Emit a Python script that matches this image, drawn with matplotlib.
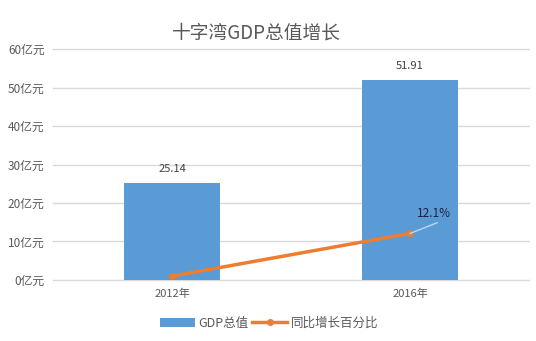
import matplotlib.pyplot as plt
import numpy as np

plt.rcParams['font.family'] = ['Noto Sans CJK SC', 'DejaVu Sans']

years = ['2012年', '2016年']
gdp = [25.14, 51.91]
growth = [1.0, 12.1]
yticks = [0, 10, 20, 30, 40, 50, 60]

fig = plt.figure(figsize=(5.36, 3.41), dpi=100)
ax = fig.add_axes([0.099, 0.179, 0.888, 0.677])

x = np.arange(len(years))
bars = ax.bar(x, gdp, width=0.4, color='#5b9bd5', label='GDP总值', zorder=2)
line, = ax.plot(x, growth, color='#ed7d31', linewidth=2.5, marker='o', markersize=4,
                label='同比增长百分比', zorder=3)

for xi, v in zip(x, gdp):
    ax.text(xi, v + 2.5, f'{v:.2f}', ha='center', va='bottom', fontsize=8, color='#404040')

# label for the last growth point with a leader line
ax.annotate(f'{growth[-1]}%', xy=(x[-1], growth[-1]), xytext=(x[-1] + 0.03, growth[-1] + 3.5),
            fontsize=8.5, color='#1f1f3f', ha='left', va='bottom',
            arrowprops=dict(arrowstyle='-', color='#bcd8f0', lw=1,
                            shrinkA=0, shrinkB=0, relpos=(0.8, 0)))

ax.set_xlim(-0.5, 1.5)
ax.set_ylim(0, 60)
ax.set_yticks(yticks)
ax.set_yticklabels([f'{t}亿元' for t in yticks], fontsize=8.5, color='#595959')
ax.set_xticks(x)
ax.set_xticklabels(years, fontsize=8, color='#595959')
ax.tick_params(length=0, pad=6)
ax.grid(axis='y', color='#d9d9d9', linewidth=1, zorder=0, clip_on=False)
for s in ax.spines.values():
    s.set_visible(False)

fig.suptitle('十字湾GDP总值增长', x=0.478, y=0.935, fontsize=13.5, color='#595959')
fig.legend([bars, line], ['GDP总值', '同比增长百分比'], loc='lower center',
           bbox_to_anchor=(0.502, 0.0), ncol=2, frameon=False,
           fontsize=9, handlelength=2.8, handletextpad=0.3, columnspacing=0.3,
           labelcolor='#595959')

fig.savefig('out.png', dpi=100, facecolor='white')
